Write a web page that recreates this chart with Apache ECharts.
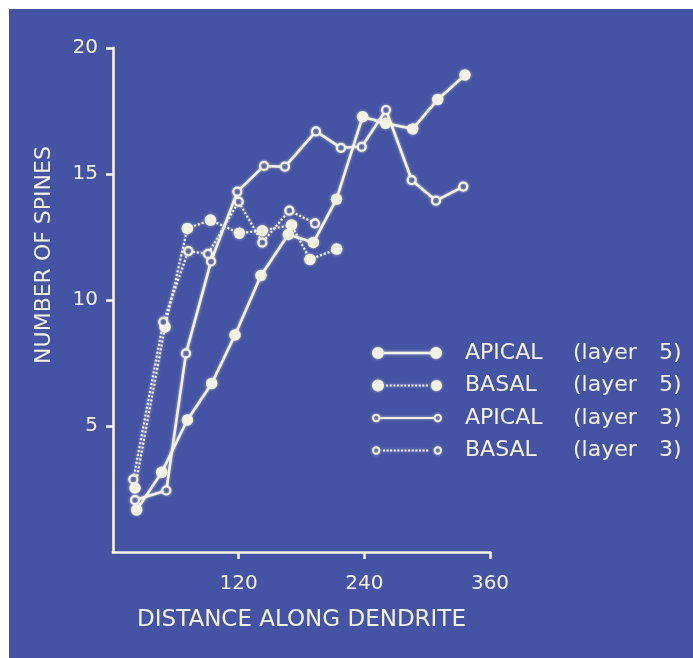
<!DOCTYPE html>
<html><head><meta charset="utf-8">
<script src="https://cdn.jsdelivr.net/npm/echarts@6/dist/echarts.min.js"></script>
<style>
html,body{margin:0;padding:0;background:#ffffff;}
#c{position:absolute;left:9px;top:9px;width:684px;height:649px;background:#4553a4;}
</style>
</head><body><div id="c"></div>
<script>
// ---- data ----
const seriesNames = ['APICAL (layer 5)', 'BASAL (layer 5)', 'APICAL (layer 3)', 'BASAL (layer 3)'];

const apical5X = [22.6, 46.5, 71.0, 94.3, 116.5, 141.3, 167.4, 191.3, 213.4, 238.3, 260.2, 286.2, 310.1, 336.1];
const apical5Y = [1.67, 3.16, 5.24, 6.69, 8.61, 10.97, 12.6, 12.28, 14.0, 17.27, 17.01, 16.79, 17.96, 18.93];

const basal5X = [21.0, 49.7, 71.0, 93.1, 120.6, 142.5, 170.5, 188.1, 213.6];
const basal5Y = [2.54, 8.93, 12.84, 13.17, 12.65, 12.75, 12.98, 11.61, 12.02];

const apical3X = [21.0, 50.9, 69.7, 93.6, 118.7, 144.2, 164.2, 193.8, 217.7, 237.5, 260.7, 285.2, 308.4, 334.5];
const apical3Y = [2.06, 2.44, 7.88, 11.53, 14.3, 15.32, 15.29, 16.69, 16.04, 16.08, 17.54, 14.76, 13.94, 14.5];

const basal3X = [19.4, 48.0, 71.9, 90.7, 120.0, 142.6, 168.4, 192.9];
const basal3Y = [2.88, 9.13, 11.94, 11.83, 13.9, 12.28, 13.55, 13.04];

const xTicks = [120, 240, 360];
const yTicks = [5, 10, 15, 20];

// ---- styles ----
const INK = '#f4f2e4';
const BG = '#4553a4';
const FONT = 'DejaVu Sans';
const glow = { shadowBlur: 3, shadowColor: 'rgba(255,255,235,0.6)' };

function pairs(xs, ys) { return xs.map((x, i) => [x, ys[i]]); }

// legend icon paths (70 x 12 box)
function circ(cx, cy, r, cw) {
  const s = cw ? 1 : 0;
  return `M${cx - r},${cy}A${r},${r},0,1,${s},${cx + r},${cy}A${r},${r},0,1,${s},${cx - r},${cy}Z`;
}
function dots(x0, x1, y, d, period) {
  let p = '';
  for (let x = x0; x + d <= x1; x += period) {
    p += `M${x},${y - d / 2}L${x + d},${y - d / 2}L${x + d},${y + d / 2}L${x},${y + d / 2}Z`;
  }
  return p;
}
const bbox = 'M35,0L35,0M35,12L35,12';
const iconFilledSolid = 'path://' + bbox + circ(6, 6, 6, true) + 'M12,4.8L58,4.8L58,7.2L12,7.2Z' + circ(64, 6, 6, true);
const iconFilledDotted = 'path://' + bbox + circ(6, 6, 6, true) + dots(14, 57, 6, 2, 3.6) + circ(64, 6, 5.5, true);
const iconOpenSolid = 'path://' + bbox + circ(4.2, 6, 4.2, true) + circ(4.2, 6, 2.3, false) +
  'M8.4,5L61.6,5L61.6,7L8.4,7Z' + circ(65.8, 6, 4.2, true) + circ(65.8, 6, 2.3, false);
const iconOpenDotted = 'path://' + bbox + circ(4.2, 6, 4.2, true) + circ(4.2, 6, 2.3, false) +
  dots(11, 59, 6, 2, 3.6) + circ(65.8, 6, 4.2, true) + circ(65.8, 6, 2.3, false);

function filledSeries(name, data, dotted) {
  return {
    name, type: 'line', data,
    symbol: 'circle', symbolSize: 11.5,
    itemStyle: Object.assign({ color: INK }, glow),
    lineStyle: Object.assign({ color: INK, width: dotted ? 2.2 : 2.6, type: dotted ? [2, 2] : 'solid', cap: 'butt' }, glow),
    emphasis: { disabled: true }
  };
}
function openSeries(name, data, dotted) {
  return {
    name, type: 'line', data,
    symbol: 'circle', symbolSize: 8,
    itemStyle: Object.assign({ color: BG, borderColor: INK, borderWidth: 2.2 }, glow),
    lineStyle: Object.assign({ color: INK, width: dotted ? 2.2 : 2.6, type: dotted ? [2, 2] : 'solid', cap: 'butt' }, glow),
    emphasis: { disabled: true }
  };
}

const chart = echarts.init(document.getElementById('c'), null, { renderer: 'canvas' });
chart.setOption({
  animation: false,
  backgroundColor: BG,
  textStyle: { fontFamily: FONT, color: INK },
  grid: { left: 104, top: 39, right: 203, bottom: 106, containLabel: false },
  xAxis: {
    type: 'value', min: 0, max: 360, interval: 120,
    name: 'DISTANCE ALONG DENDRITE', nameLocation: 'middle', nameGap: 57,
    nameTextStyle: { color: INK, fontFamily: FONT, fontSize: 23 },
    axisLine: { show: true, onZero: false, lineStyle: { color: INK, width: 2.6, cap: 'square' } },
    axisTick: { show: true, length: 7, customValues: xTicks, lineStyle: { color: INK, width: 2.6 } },
    axisLabel: { customValues: xTicks, color: INK, fontFamily: FONT, fontSize: 20, margin: 22 },
    splitLine: { show: false }
  },
  yAxis: {
    type: 'value', min: 0, max: 20, interval: 5,
    name: 'NUMBER OF SPINES', nameLocation: 'middle', nameGap: 58, nameRotate: 90,
    nameTextStyle: { color: INK, fontFamily: FONT, fontSize: 22, padding: [0, 0, 0, 90] },
    axisLine: { show: true, onZero: false, lineStyle: { color: INK, width: 2.6, cap: 'square' } },
    axisTick: { show: true, length: 7, customValues: yTicks, lineStyle: { color: INK, width: 2.6 } },
    axisLabel: { customValues: yTicks, color: INK, fontFamily: FONT, fontSize: 20, margin: 15 },
    splitLine: { show: false }
  },
  legend: {
    orient: 'vertical', left: 363, top: 333, padding: 0,
    itemWidth: 70, itemHeight: 12, itemGap: 10.5, symbolKeepAspect: false,
    selectedMode: false,
    itemStyle: { color: INK, borderWidth: 0, borderColor: INK, shadowBlur: 3, shadowColor: 'rgba(255,255,235,0.6)' },
    data: [
      { name: seriesNames[0], icon: iconFilledSolid },
      { name: seriesNames[1], icon: iconFilledDotted },
      { name: seriesNames[2], icon: iconOpenSolid },
      { name: seriesNames[3], icon: iconOpenDotted }
    ],
    formatter: function (name) {
      const m = name.match(/^(\S+) \(layer (\d)\)$/);
      return '{s| }{a|' + m[1] + '}{b|(layer}{c|' + m[2] + ')}';
    },
    textStyle: {
      color: INK, fontFamily: FONT, fontSize: 22, lineHeight: 20,
      rich: {
        s: { width: 18, fontSize: 22, fontFamily: FONT, lineHeight: 20 },
        a: { width: 108, color: INK, fontSize: 22, fontFamily: FONT, lineHeight: 20 },
        b: { width: 86, color: INK, fontSize: 22, fontFamily: FONT, lineHeight: 20 },
        c: { color: INK, fontSize: 22, fontFamily: FONT, lineHeight: 20 }
      }
    }
  },
  series: [
    filledSeries(seriesNames[0], pairs(apical5X, apical5Y), false),
    filledSeries(seriesNames[1], pairs(basal5X, basal5Y), true),
    openSeries(seriesNames[2], pairs(apical3X, apical3Y), false),
    openSeries(seriesNames[3], pairs(basal3X, basal3Y), true)
  ]
});
</script>
</body></html>
